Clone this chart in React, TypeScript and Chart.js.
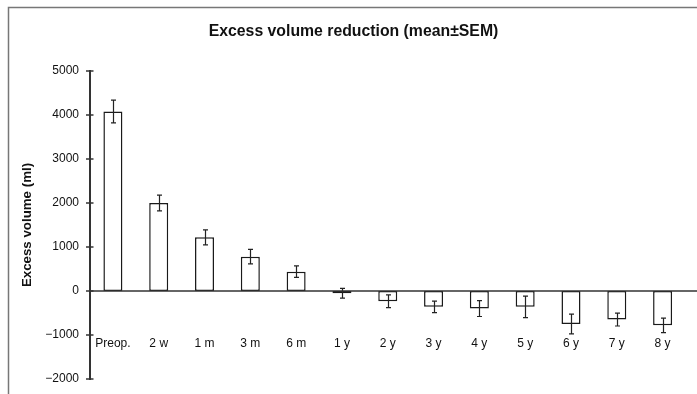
import React, { useEffect, useRef } from "react";
import { Chart, registerables } from "chart.js";

Chart.register(...registerables);

const categories = ["Preop.", "2 w", "1 m", "3 m", "6 m", "1 y", "2 y", "3 y", "4 y", "5 y", "6 y", "7 y", "8 y"];
const meanValues = [4080, 2000, 1220, 780, 440, -50, -235, -360, -400, -360, -750, -650, -780];
const semValues = [260, 180, 170, 165, 130, 110, 145, 130, 180, 245, 225, 145, 165];
const yTicks = [-2000, -1000, 0, 1000, 2000, 3000, 4000, 5000];
const titleText = "Excess volume reduction (mean±SEM)";
const yAxisTitle = "Excess volume (ml)";

const FONT = "'Liberation Sans', Arial, Helvetica, sans-serif";

const decorPlugin = {
  id: "decor",
  afterDatasetsDraw(chart: any) {
    const { ctx, chartArea, scales } = chart;
    const x = scales.x;
    const y = scales.y;
    ctx.save();
    // error bars
    ctx.strokeStyle = "#222";
    ctx.lineWidth = 1.2;
    meanValues.forEach((v, i) => {
      const cx = Math.round(x.getPixelForValue(i)) + 0.5;
      const top = y.getPixelForValue(v + semValues[i]);
      const bot = y.getPixelForValue(v - semValues[i]);
      ctx.beginPath();
      ctx.moveTo(cx, top);
      ctx.lineTo(cx, bot);
      ctx.moveTo(cx - 2.5, top);
      ctx.lineTo(cx + 2.5, top);
      ctx.moveTo(cx - 2.5, bot);
      ctx.lineTo(cx + 2.5, bot);
      ctx.stroke();
    });
    // zero line extending to the right edge
    const y0 = y.getPixelForValue(0);
    ctx.strokeStyle = "#333";
    ctx.lineWidth = 1.6;
    ctx.beginPath();
    ctx.moveTo(chartArea.left, y0);
    ctx.lineTo(chart.width, y0);
    ctx.stroke();
    // crossing tick marks on y axis
    ctx.lineWidth = 1.5;
    yTicks.forEach((t) => {
      const py = y.getPixelForValue(t);
      ctx.beginPath();
      ctx.moveTo(chartArea.left - 4, py);
      ctx.lineTo(chartArea.left + 3.5, py);
      ctx.stroke();
    });
    // frame
    ctx.strokeStyle = "#777";
    ctx.lineWidth = 1.5;
    ctx.beginPath();
    ctx.moveTo(8.5, chart.height);
    ctx.lineTo(8.5, 7.5);
    ctx.lineTo(chart.width, 7.5);
    ctx.stroke();
    // title
    ctx.fillStyle = "#111";
    ctx.font = "bold 15.8px " + FONT;
    ctx.textAlign = "center";
    ctx.textBaseline = "middle";
    ctx.fillText(titleText, 353.5, 32);
    ctx.restore();
  },
};

export default function App() {
  const ref = useRef<HTMLCanvasElement | null>(null);
  useEffect(() => {
    if (!ref.current) return;
    const chart = new Chart(ref.current, {
      type: "bar",
      data: {
        labels: categories,
        datasets: [
          {
            data: meanValues,
            backgroundColor: "#ffffff",
            borderColor: "#1a1a1a",
            borderWidth: 1.5,
            borderSkipped: false,
            barPercentage: 0.415,
            categoryPercentage: 1,
          },
        ],
      },
      options: {
        animation: false,
        responsive: false,
        devicePixelRatio: 1,
        layout: { padding: { top: 71, bottom: 15, left: 0, right: 11.5 } },
        plugins: { legend: { display: false }, title: { display: false }, tooltip: { enabled: false } },
        scales: {
          x: {
            type: "category",
            offset: true,
            position: { y: -1000 } as any,
            grid: { display: false, drawTicks: false, tickLength: 0 },
            border: { display: false },
            ticks: {
              color: "#111",
              font: { size: 12, family: FONT },
              padding: 1,
              maxRotation: 0,
              autoSkip: false,
            },
          },
          y: {
            min: -2000,
            max: 5000,
            afterBuildTicks: (s: any) => {
              s.ticks = yTicks.map((v) => ({ value: v }));
            },
            afterFit: (s: any) => {
              s.width = 90;
            },
            grid: { display: false },
            border: { display: true, color: "#333", width: 2 },
            ticks: {
              color: "#111",
              font: { size: 12, family: FONT },
              padding: 3,
              callback: (v: any) => (Number(v) < 0 ? "\u2212" + Math.abs(Number(v)) : String(v)),
            },
            title: {
              display: true,
              text: yAxisTitle,
              color: "#111",
              font: { size: 13.3, weight: "bold", family: FONT },
              padding: { top: 19, bottom: 0 },
            },
          },
        },
      },
      plugins: [decorPlugin],
    });
    return () => chart.destroy();
  }, []);
  return (
    <div style={{ position: "absolute", left: 0, top: 0, width: 697, height: 394, background: "#fff" }}>
      <canvas ref={ref} width={697} height={394} style={{ display: "block", width: 697, height: 394 }} />
    </div>
  );
}
